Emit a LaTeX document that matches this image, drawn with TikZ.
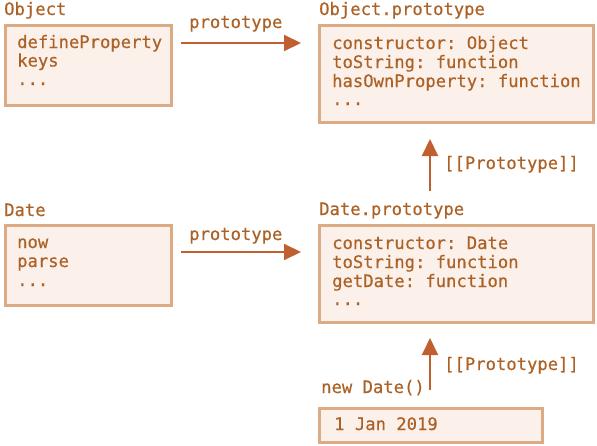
\documentclass[tikz,border=0pt]{standalone}
\usepackage{fontspec}
\setmonofont[FakeBold=0.5]{DejaVu Sans Mono}
\usetikzlibrary{arrows.meta}
\definecolor{txtbrown}{RGB}{172,98,38}
\definecolor{arrowbrown}{RGB}{192,96,48}
\definecolor{boxfill}{RGB}{251,241,234}
\definecolor{boxedge}{RGB}{219,171,134}
\tikzset{
  codebox/.style={draw=boxedge, line width=3pt, fill=boxfill, inner sep=0pt},
  code/.style={font=\ttfamily\fontsize{17.2}{19}\selectfont, text=txtbrown, inner sep=0pt, anchor=base west},
  link/.style={draw=arrowbrown, line width=2pt, -{Triangle[length=17pt,width=16pt]}},
}
\begin{document}
\begin{tikzpicture}[x=1pt,y=-1pt]
\useasboundingbox (0,0) rectangle (597,445);

% Object and its prototype
\node[code] (objname) at (4,15) {Object};
\draw[codebox] (5,25) rectangle (171,105);
\coordinate (objR) at (181,43);
\node[code] (obj1) at (17,48) {defineProperty};
\node[code] (obj2) at (17,66.5) {keys};
\node[code] (obj3) at (17,85) {...};

\node[code] (oprotoname) at (319,15) {Object.prototype};
\draw[codebox] (319,25) rectangle (593,122);
\coordinate (oprotoL) at (301,43);
\coordinate (oprotoB) at (430,139);
\node[code] (op1) at (332,49) {constructor: Object};
\node[code] (op2) at (332,68) {toString: function};
\node[code] (op3) at (332,87) {hasOwnProperty: function};
\node[code] (op4) at (332,105) {...};

\node[code] (proto1) at (189,28) {prototype};

% Date and its prototype
\node[code] (datename) at (4,216) {Date};
\draw[codebox] (5,225) rectangle (171,305);
\coordinate (dateR) at (181,252);
\node[code] (d1) at (17,248) {now};
\node[code] (d2) at (17,267) {parse};
\node[code] (d3) at (17,286) {...};

\node[code] (dprotoname) at (319,215) {Date.prototype};
\draw[codebox] (319,225) rectangle (593,322);
\coordinate (dprotoL) at (301,252);
\coordinate (dprotoT) at (430,191);
\coordinate (dprotoB) at (430,338);
\node[code] (dp1) at (332,249) {constructor: Date};
\node[code] (dp2) at (332,268) {toString: function};
\node[code] (dp3) at (332,287) {getDate: function};
\node[code] (dp4) at (332,305) {...};

\node[code] (proto2) at (189,240) {prototype};

% new Date() instance
\node[code] (newdate) at (321,393) {new Date()};
\draw[codebox] (319,408) rectangle (542,442);
\coordinate (instT) at (430,390);
\node[code] (inst) at (334,430) {1 Jan 2019};

% links
\draw[link] (objR) -- (oprotoL);
\draw[link] (dateR) -- (dprotoL);
\draw[link] (dprotoT) -- (oprotoB);
\draw[link] (instT) -- (dprotoB);
\node[code] (pp1) at (444,169) {[[Prototype]]};
\node[code] (pp2) at (444,370) {[[Prototype]]};
\end{tikzpicture}
\end{document}
